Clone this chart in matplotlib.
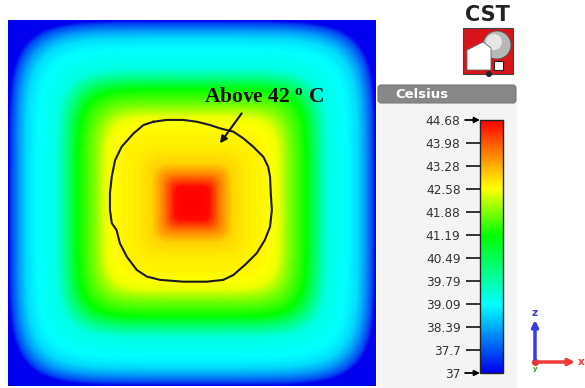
import numpy as np
import matplotlib
matplotlib.use('Agg')
import matplotlib.pyplot as plt
from matplotlib.colors import LinearSegmentedColormap, Normalize
from matplotlib.patches import Rectangle, FancyBboxPatch, Polygon, Circle

plt.rcParams['mathtext.fontset'] = 'custom'
plt.rcParams['mathtext.rm'] = 'Liberation Serif:bold'
plt.rcParams['mathtext.it'] = 'Liberation Serif:bold'
plt.rcParams['mathtext.bf'] = 'Liberation Serif:bold'

# Temperature range of the solver result (deg C)
t_min = 37.0
t_max = 44.68

# Temperature profile from the centre of the phantom outwards (distance in mm)
profile_dist = [0, 4.5, 8, 11, 15, 20, 23.5, 26.5, 31, 34.5, 37, 42.5, 45, 47, 49,
                50, 52]
profile_temp = [44.68, 44.6, 43.6, 42.95, 42.75, 42.65, 42.5, 41.9, 41.2, 40.0,
                39.3, 39.05, 38.8, 38.3, 37.6, 37.0, 37.0]

# Hand drawn outline of the region above 42 C (mm)
outline_x = [-10.5, -6.9, -2.4, 1.3, 4.9, 7.6, 11.2, 13.9, 16.6, 19.4, 20.7, 21.2,
             21.4, 21.7, 21.2, 19.8, 17.6, 14.4, 11.2, 8.5, 4.0, -2.4, -8.7, -12.3,
             -15.0, -17.7, -19.6, -20.5, -21.8, -22.3, -22.3, -21.8, -20.9, -19.1,
             -15.9, -13.2]
outline_y = [22.2, 22.7, 22.7, 22.2, 21.3, 20.4, 19.5, 17.7, 15.4, 12.6, 9.9, 7.2,
             2.7, -1.9, -6.5, -10.1, -13.7, -16.9, -19.7, -21.0, -21.5, -21.5, -21.0,
             -20.1, -18.3, -14.7, -11.0, -7.4, -5.5, -1.9, 2.7, 7.2, 11.7, 15.4,
             19.0, 21.3]

# Colour bar ticks
tick_values = [44.68, 43.98, 43.28, 42.58, 41.88, 41.19, 40.49, 39.79, 39.09,
               38.39, 37.7, 37.0]
tick_labels = ['44.68', '43.98', '43.28', '42.58', '41.88', '41.19', '40.49',
               '39.79', '39.09', '38.39', '37.7', '37']

# CST style rainbow
cst_cmap = LinearSegmentedColormap.from_list('cst', [
    (0.0, '#0000ee'), (0.27, '#00ffff'), (0.545, '#00ff00'),
    (0.73, '#ffff00'), (0.87, '#ff8000'), (1.0, '#ff0000')])
norm = Normalize(t_min, t_max)

# Build the temperature map on a 100 x 100 mm cross-section
half = 50.0
xs = np.linspace(-half, half, 500)
X, Y = np.meshgrid(xs, xs)
dist = (np.abs(X) ** 6 + np.abs(Y) ** 6) ** (1 / 6)
temp = np.interp(dist, profile_dist, profile_temp)

fig = plt.figure(figsize=(5.85, 3.88), dpi=100)
W, H = 585.0, 388.0

# background layer for the legend panel, logo and triad
deco = fig.add_axes([0, 0, 1, 1], zorder=0)
deco.set_xlim(0, W)
deco.set_ylim(H, 0)
deco.axis('off')

deco.add_patch(Rectangle((377, 103), 140, 290, color='#f4f4f4', lw=0))
deco.add_patch(FancyBboxPatch((378, 85), 138, 18, boxstyle='round,pad=0,rounding_size=3',
                              fc='#878787', ec='#7a7a7a', lw=0.8))
deco.text(395, 94.5, 'Celsius', color='white', fontsize=9.5, fontweight='bold',
          va='center', ha='left')

# CST logo
deco.text(487.5, 15, 'CST', fontsize=15, fontweight='bold', ha='center', va='center',
          color='#222222')
deco.add_patch(Rectangle((463, 28), 50, 46, fc='#d9141b', ec='#444444', lw=0.8))
deco.add_patch(Circle((497, 45), 14, fc='#b8b8b8', ec='#555555', lw=0.6))
deco.add_patch(Circle((494, 42), 8, fc='#e6e6e6', lw=0))
deco.add_patch(Polygon([(467, 50), (483, 42), (491, 48), (491, 70), (467, 70)],
                       closed=True, fc='white', ec='#666666', lw=0.6))
deco.add_patch(Rectangle((494, 61), 9, 9, fc='white', ec='#222222', lw=0.8))
deco.add_patch(Circle((489, 74), 3, fc='#222222', lw=0))

# coordinate triad
deco.annotate('', xy=(535, 320), xytext=(535, 362),
              arrowprops=dict(arrowstyle='-|>', color='#3a3ae8', lw=2.5, mutation_scale=9,
                              shrinkA=0, shrinkB=0))
deco.annotate('', xy=(575, 362), xytext=(535, 362),
              arrowprops=dict(arrowstyle='-|>', color='#f03a3a', lw=2.5, mutation_scale=9,
                              shrinkA=0, shrinkB=0))
deco.plot([535], [362], 'o', color='#e83030', ms=4)
deco.text(535, 313, 'z', color='#3a3ae8', fontsize=7.5, fontweight='bold', ha='center',
          va='center')
deco.text(581, 362, 'x', color='#f03a3a', fontsize=7.5, fontweight='bold', ha='center',
          va='center')
deco.text(535.5, 369, 'y', color='#2a9a2a', fontsize=5, fontweight='bold', ha='center',
          va='center')

# temperature map
ax = fig.add_axes([8 / W, 2 / H, 368 / W, 366 / H], zorder=1)
ax.imshow(temp, cmap=cst_cmap, norm=norm, origin='lower',
          extent=[-half, half, -half, half], interpolation='bilinear', aspect='auto')
ax.plot(outline_x + outline_x[:1], outline_y + outline_y[:1], color='#1a1a1a', lw=1.5)
ax.text(19.6, 29.0, 'Above 42 $^{\\rm o}$ C', fontsize=15.5, fontweight='bold',
        family='Liberation Serif', ha='center', va='center', color='#111111')
ax.annotate('', xy=(7.6, 16.3), xytext=(13.5, 24.5),
            arrowprops=dict(arrowstyle='-|>', color='#111111', lw=1.5, mutation_scale=10,
                            shrinkA=0, shrinkB=0))
ax.set_xlim(-half, half)
ax.set_ylim(-half, half)
ax.axis('off')

# colour bar
cax = fig.add_axes([480 / W, 15 / H, 23 / W, 253 / H], zorder=2)
sm = plt.cm.ScalarMappable(norm=norm, cmap=cst_cmap)
cb = fig.colorbar(sm, cax=cax)
cb.outline.set_edgecolor('#222222')
cb.outline.set_linewidth(1.0)
cax.yaxis.set_ticks_position('left')
cax.yaxis.set_label_position('left')
cb.set_ticks(tick_values)
cb.set_ticklabels(tick_labels)
cax.tick_params(axis='y', direction='out', length=10, width=1.4, color='#333333',
                labelsize=8.7, labelcolor='#333333', pad=4)
ticks = cax.yaxis.get_major_ticks()
for k, v in enumerate(tick_values):
    if v in (t_min, t_max):
        ticks[k].tick1line.set_visible(False)
        cax.annotate('', xy=(0, v), xytext=(-0.65, v),
                     xycoords=('axes fraction', 'data'),
                     textcoords=('axes fraction', 'data'),
                     arrowprops=dict(arrowstyle='-|>', color='black', lw=1.3,
                                     mutation_scale=8, shrinkA=0, shrinkB=0))

fig.savefig('out.png', dpi=100, facecolor='white')
